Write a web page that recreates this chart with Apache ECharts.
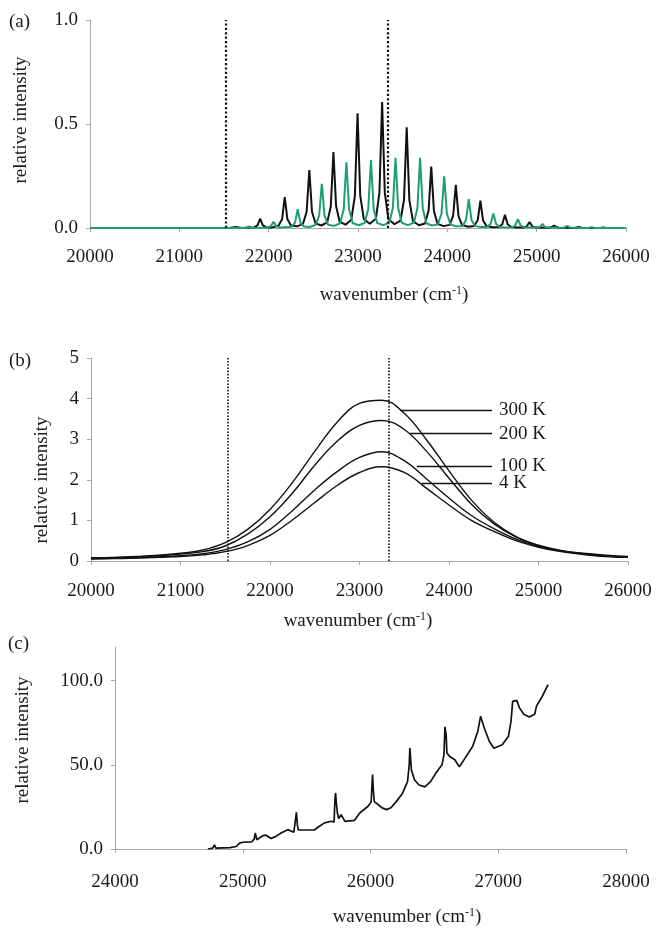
<!DOCTYPE html>
<html>
<head>
<meta charset="utf-8">
<script src="https://cdn.jsdelivr.net/npm/echarts@6/dist/echarts.min.js"></script>
<style>
html,body{margin:0;padding:0;background:#fff;}
#c{width:657px;height:932px;}
</style>
</head>
<body>
<div id="c"></div>
<script>
// ---------- Panel (a): simulated vibronic progressions ----------
const aBlack = [[20000,0],[21560,0],[21630,0.005],[21700,0],[21835,0.003],[21875,0.013],[21905,0.045],[21935,0.013],[21975,0.003],[22040,0.003],
[22110,0.011],[22150,0.042],[22180,0.148],[22210,0.042],[22250,0.012],[22318,0.008],
[22385,0.02],[22425,0.078],[22455,0.279],[22485,0.078],[22525,0.022],[22590,0.012],
[22655,0.027],[22695,0.102],[22725,0.365],[22755,0.104],[22795,0.03],[22860,0.016],
[22925,0.04],[22965,0.154],[22995,0.551],[23025,0.156],[23065,0.043],[23132,0.02],
[23200,0.044],[23240,0.17],[23270,0.606],[23300,0.17],[23340,0.043],[23408,0.018],
[23475,0.035],[23515,0.136],[23545,0.484],[23575,0.134],[23615,0.033],[23682,0.013],
[23750,0.022],[23790,0.083],[23820,0.295],[23850,0.082],[23890,0.02],[23958,0.009],
[24025,0.015],[24065,0.058],[24095,0.207],[24125,0.057],[24165,0.014],[24232,0.006],
[24300,0.01],[24340,0.037],[24370,0.131],[24400,0.036],[24440,0.009],[24508,0.004],
[24575,0.005],[24615,0.018],[24645,0.064],[24675,0.018],[24715,0.005],[24782,0.002],
[24860,0.003],[24890,0.008],[24920,0.029],[24950,0.008],[24990,0.002],
[25150,0.001],[25195,0.012],[25240,0.001],[25430,0],[25470,0.005],[25510,0],[25710,0],[25745,0.002],[25780,0],[26000,0]];
const aGreen = [[20000,0],[21740,0],[21780,0.007],[21820,0],
[21995,0.002],[22025,0.009],[22055,0.03],[22085,0.009],[22125,0.002],
[22255,0.006],[22295,0.026],[22325,0.09],[22355,0.026],[22395,0.007],[22460,0.005],
[22525,0.015],[22565,0.06],[22595,0.212],[22625,0.06],[22665,0.016],[22732,0.01],
[22800,0.023],[22840,0.09],[22870,0.316],[22900,0.09],[22940,0.024],[23008,0.013],
[23075,0.024],[23115,0.093],[23145,0.327],[23175,0.093],[23215,0.024],[23282,0.014],
[23350,0.025],[23390,0.096],[23420,0.338],[23450,0.096],[23490,0.025],[23558,0.014],
[23625,0.025],[23665,0.095],[23695,0.337],[23725,0.094],[23765,0.023],[23830,0.012],
[23895,0.018],[23935,0.07],[23965,0.248],[23995,0.069],[24035,0.017],[24102,0.008],
[24170,0.01],[24210,0.04],[24240,0.139],[24270,0.039],[24310,0.009],[24378,0.005],
[24445,0.005],[24485,0.02],[24515,0.07],[24545,0.02],[24585,0.005],[24652,0.003],
[24730,0.004],[24760,0.012],[24790,0.043],[24820,0.012],[24860,0.003],
[25015,0.002],[25040,0.006],[25065,0.02],[25090,0.006],[25115,0.002],
[25300,0.001],[25340,0.01],[25380,0.001],[25580,0],[25615,0.004],[25650,0],[26000,0]];
const dottedLines = [21525, 23330];

// ---------- Panel (b): temperature-dependent envelopes ----------
const bWave = [20000,20250,20500,20750,21000,21250,21500,21750,22000,22250,22500,22750,23000,23250,23500,23750,24000,24250,24500,24750,25000,25250,25500,25750,26000];
const b300 = [0.08,0.09,0.11,0.14,0.19,0.27,0.45,0.78,1.27,1.93,2.70,3.42,3.88,3.96,3.64,2.98,2.22,1.50,0.96,0.60,0.39,0.26,0.19,0.14,0.11];
const b200 = [0.07,0.08,0.10,0.13,0.17,0.23,0.37,0.66,1.09,1.67,2.36,2.95,3.34,3.46,3.24,2.70,2.04,1.40,0.92,0.59,0.38,0.25,0.18,0.13,0.10];
const b100 = [0.06,0.07,0.08,0.10,0.13,0.18,0.28,0.47,0.78,1.24,1.75,2.20,2.55,2.69,2.47,2.02,1.55,1.12,0.80,0.54,0.36,0.25,0.17,0.12,0.09];
const b4 = [0.05,0.06,0.07,0.09,0.11,0.15,0.23,0.38,0.63,1.01,1.44,1.86,2.18,2.32,2.18,1.79,1.38,1.00,0.73,0.50,0.34,0.23,0.16,0.11,0.09];
const bLabels = ['300 K','200 K','100 K','4 K'];
const bLeaderStart = [23455, 23566, 23641, 23697];
const bLeaderY = [3.72, 3.14, 2.34, 1.91];
const bLeaderEnd = 24480;

// ---------- Panel (c): measured spectrum ----------
const cSpec = [[24727,0],[24765,0.5],[24778,2.5],[24790,0.5],[24900,0.8],[24950,1.5],[24975,3.5],[25000,4],[25070,4.2],[25090,6],[25098,9.5],[25110,5.5],[25130,6.5],[25160,8],[25182,8.2],[25222,6.2],[25260,7.5],[25300,9.5],[25352,11.5],[25400,10],[25414,11],[25420,21.8],[25428,14],[25436,11.3],[25560,11.3],[25600,13.5],[25640,15.5],[25692,16.5],[25715,16],[25722,30],[25727,33.3],[25732,28],[25740,22],[25750,18],[25770,20.4],[25785,20],[25800,16.4],[25874,17],[25916,21.4],[25981,25.4],[26005,28],[26012,38],[26016,44.2],[26022,35],[26030,28],[26050,27],[26090,24.5],[26125,23.4],[26160,24.5],[26200,28],[26250,33],[26290,40],[26303,50],[26308,60],[26313,55],[26320,47],[26345,41],[26380,38],[26426,36.9],[26470,40],[26520,46],[26560,50],[26575,56],[26583,72.6],[26592,68],[26598,57],[26620,55],[26660,53],[26696,48.8],[26740,54],[26800,61],[26840,70],[26862,78.9],[26890,72],[26930,64],[26966,59.9],[27031,61.9],[27080,67],[27100,76],[27113,87.7],[27145,88.3],[27165,84],[27200,80],[27243,78.4],[27285,80],[27300,85],[27340,90],[27390,97.6]];

const yTicksC = [0, 50, 100];

const FONT = 'Liberation Serif';
const TXT = '#1a1a1a';
const AX = '#a8a8a8';

function xAxisCfg(idx, min, max, margin) {
  return {
    type: 'value', gridIndex: idx, min: min, max: max, interval: 1000,
    axisLine: {show: true, onZero: false, lineStyle: {color: AX, width: 1}},
    axisTick: {show: true, length: 4, lineStyle: {color: AX}},
    axisLabel: {fontFamily: FONT, fontSize: 19, color: TXT, margin: margin,
      formatter: v => String(v)},
    splitLine: {show: false}
  };
}
function yAxisCfg(idx, min, max, interval, dec) {
  return {
    type: 'value', gridIndex: idx, min: min, max: max, interval: interval,
    axisLine: {show: true, lineStyle: {color: AX, width: 1}},
    axisTick: {show: true, length: 4, lineStyle: {color: AX}},
    axisLabel: {fontFamily: FONT, fontSize: 19, color: TXT, margin: 12,
      formatter: v => v.toFixed(dec)},
    splitLine: {show: false}
  };
}

function zip(xs, ys) { return xs.map((x, i) => [x, ys[i]]); }

function dotted(width) {
  return {
    silent: true, symbol: ['none', 'none'], label: {show: false},
    lineStyle: {type: 'dotted', color: '#111', width: width},
    data: dottedLines.map(v => ({xAxis: v}))
  };
}

const bSeriesData = [b300, b200, b100, b4];
const bSeries = bSeriesData.map((arr, i) => ({
  type: 'line', xAxisIndex: 1, yAxisIndex: 1, data: zip(bWave, arr),
  smooth: 0.4, symbol: 'none', lineStyle: {color: '#111', width: 1.4},
  markLine: {
    silent: true, symbol: ['none', 'none'],
    lineStyle: {type: 'solid', color: '#111', width: 1.4},
    label: {show: true, position: 'end', distance: 7, formatter: bLabels[i],
      fontFamily: FONT, fontSize: 19, color: TXT},
    data: [[{coord: [bLeaderStart[i], bLeaderY[i]]}, {coord: [bLeaderEnd, bLeaderY[i]]}]]
  }
}));
bSeries.push({type: 'line', xAxisIndex: 1, yAxisIndex: 1, data: [], symbol: 'none', markLine: dotted(1.6)});

function rotText(x, y, txt) {
  return {type: 'text', x: x, y: y, rotation: Math.PI / 2,
    style: {text: txt, font: '19px "Liberation Serif"', fill: TXT, align: 'center', verticalAlign: 'middle'}};
}
function wnText(x, y) {
  return {type: 'text', x: x, y: y,
    style: {text: '{a|wavenumber (cm}{s|-1}{a|)}', align: 'center', verticalAlign: 'middle',
      rich: {a: {fontFamily: FONT, fontSize: 19, fill: TXT, color: TXT},
             s: {fontFamily: FONT, fontSize: 12, fill: TXT, color: TXT, padding: [0, 0, 9, 0]}}}};
}
function plainText(x, y, txt) {
  return {type: 'text', x: x, y: y,
    style: {text: txt, font: '19px "Liberation Serif"', fill: TXT, align: 'left', verticalAlign: 'middle'}};
}

const option = {
  animation: false,
  backgroundColor: '#fff',
  grid: [
    {left: 90, right: 31, top: 20, height: 208},
    {left: 91, right: 29, top: 358, height: 203},
    {left: 115, right: 31, top: 647, height: 202}
  ],
  xAxis: [
    xAxisCfg(0, 20000, 26000, 20),
    xAxisCfg(1, 20000, 26000, 21),
    xAxisCfg(2, 24000, 28000, 24)
  ],
  yAxis: [
    yAxisCfg(0, 0, 1, 0.5, 1),
    yAxisCfg(1, 0, 5, 1, 0),
    yAxisCfg(2, 0, 120, 50, 1)
  ],
  series: [
    {type: 'line', xAxisIndex: 0, yAxisIndex: 0, data: aBlack, symbol: 'none',
      lineStyle: {color: '#111', width: 2}, z: 2, markLine: dotted(2.2)},
    {type: 'line', xAxisIndex: 0, yAxisIndex: 0, data: aGreen, symbol: 'none',
      lineStyle: {color: '#1f9e6e', width: 2}, z: 3}
  ].concat(bSeries).concat([
    {type: 'line', xAxisIndex: 2, yAxisIndex: 2, data: cSpec, symbol: 'none',
      lineStyle: {color: '#111', width: 1.7}}
  ]),
  graphic: [
    plainText(9, 22, '(a)'),
    plainText(9, 361, '(b)'),
    plainText(8, 644, '(c)'),
    rotText(21, 120, 'relative intensity'),
    rotText(42, 480, 'relative intensity'),
    rotText(23, 740, 'relative intensity'),
    wnText(394, 295),
    wnText(358, 621),
    wnText(407, 917)
  ]
};

const yc = option.yAxis[2];
yc.axisLabel.customValues = yTicksC;
yc.axisTick.customValues = yTicksC;

const chart = echarts.init(document.getElementById('c'), null, {renderer: 'canvas'});
chart.setOption(option);
</script>
</body>
</html>
